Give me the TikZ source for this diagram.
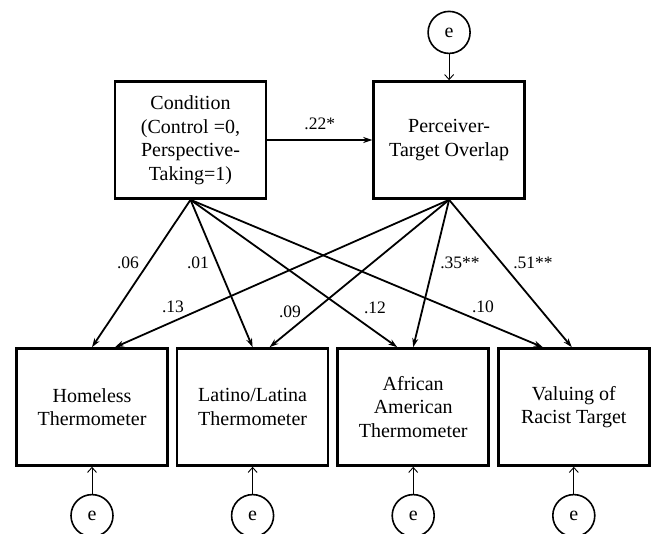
\documentclass[tikz,border=0pt]{standalone}
\usepackage{fontspec}
\setmainfont{Liberation Serif}
\usetikzlibrary{positioning,arrows.meta}

\begin{document}
\begin{tikzpicture}[x=1pt,y=-1pt,>={Stealth[length=9pt,width=6pt]},
    var node/.style={rectangle,draw,line width=2.6pt,minimum width=151pt,minimum height=117pt,inner sep=2pt,align=center,font=\fontsize{20}{23.5}\selectfont},
    err node/.style={circle,draw,line width=1.6pt,minimum size=42pt,inner sep=0pt,font=\fontsize{20}{23.5}\selectfont},
    effect/.style={->,line width=1.8pt},
    err arrow/.style={-{Straight Barb[length=5pt,width=9pt]},line width=0.9pt},
    coef/.style={inner sep=0pt,font=\fontsize{17.5}{20}\selectfont}]

            \useasboundingbox (0,0) rectangle (656,534);

            % predictor and mediator
            \node[var node] (cond) at (190.5,140) {Condition\\(Control =0,\\Perspective-\\Taking=1)};
            \node[var node] (perc) [right=105pt of cond] {Perceiver-\\Target Overlap};

            % outcomes
            \node[var node] (hom) at (92,407) {Homeless\\Thermometer};
            \node[var node] (lat) [right=7pt of hom] {Latino/Latina\\Thermometer};
            \node[var node] (afr) [right=7pt of lat] {African\\American\\Thermometer};
            \node[var node] (val) [right=7pt of afr] {Valuing of\\Racist Target};

            % error terms
            \node[err node] (eperc) [above=26pt of perc] {e};
            \node[err node] (ehom) [below=27pt of hom] {e};
            \node[err node] (elat) [below=27pt of lat] {e};
            \node[err node] (eafr) [below=27pt of afr] {e};
            \node[err node] (eval) [below=27pt of val] {e};

            \draw[effect] (cond) to node[coef, above=9pt] (l22) {.22*} (perc);

            \draw[effect] (cond.south) to (hom.north);
            \draw[effect] (cond.south) to (lat.north);
            \draw[effect] (cond.south) to ([xshift=-16pt]afr.north);
            \draw[effect] (cond.south) to ([xshift=-31pt]val.north);

            \draw[effect] (perc.south) to ([xshift=23pt]hom.north);
            \draw[effect] (perc.south) to ([xshift=17pt]lat.north);
            \draw[effect] (perc.south) to (afr.north);
            \draw[effect] (perc.south) to ([xshift=-2pt]val.north);

            \node[coef] (l06) at (128,263) {.06};
            \node[coef] (l01) at (198,263) {.01};
            \node[coef] (l35) at (460,263) {.35**};
            \node[coef] (l51) at (533,263) {.51**};
            \node[coef] (l13) at (173,307) {.13};
            \node[coef] (l09) at (290,312) {.09};
            \node[coef] (l12) at (375,308) {.12};
            \node[coef] (l10) at (483,307) {.10};

            \draw[err arrow] (eperc) to (perc);
            \draw[err arrow] (ehom) to (hom);
            \draw[err arrow] (elat) to (lat);
            \draw[err arrow] (eafr) to (afr);
            \draw[err arrow] (eval) to (val);

            ;
        \end{tikzpicture}
\end{document}
